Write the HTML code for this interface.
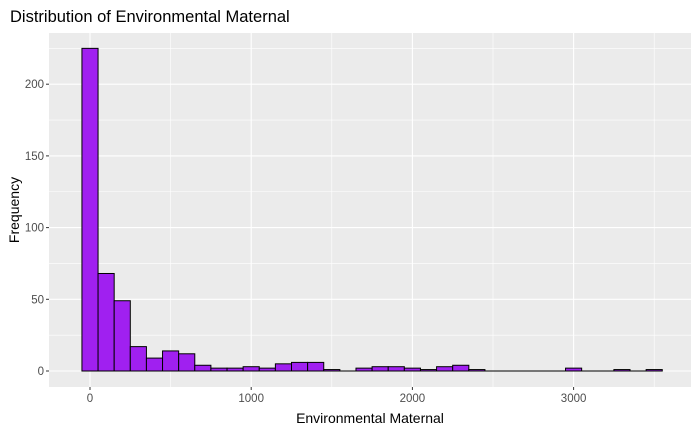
<!DOCTYPE html>
<html><head><meta charset="utf-8"><style>
body{margin:0;background:#fff;font-family:"Liberation Sans",Arial,sans-serif}
</style></head><body>
<svg id="c" width="700" height="432" xmlns="http://www.w3.org/2000/svg"></svg>
<script>
const binCenters=[0,100,200,300,400,500,600,700,800,900,1000,1100,1200,1300,1400,1500,1600,1700,1800,1900,2000,2100,2200,2300,2400,2500,2600,2700,2800,2900,3000,3100,3200,3300,3400,3500];
const counts=[225,68,49,17,9,14,12,4,2,2,3,2,5,6,6,1,0,2,3,3,2,1,3,4,1,0,0,0,0,0,2,0,0,1,0,1];
const yTicks=[0,50,100,150,200];
const xTicks=[0,1000,2000,3000];
const binWidth=100;
const svg=document.getElementById('c');
const NS='http://www.w3.org/2000/svg';
const PL=49,PR=691,PT=33,PB=387;
const xs=v=>90+v*0.1612;
const ys=v=>371-v*1.434;
function mk(t,a,p){const e=document.createElementNS(NS,t);for(const k in a)e.setAttribute(k,a[k]);(p||svg).appendChild(e);return e;}
const panel=mk('rect',{x:PL,y:PT,width:PR-PL,height:PB-PT,fill:'#ebebeb'});


for(let i=0;i<yTicks.length-1;i++){const v=(yTicks[i]+yTicks[i+1])/2;const l=mk('line',{x1:PL,x2:PR,y1:ys(v),y2:ys(v),stroke:'#fff','stroke-width':0.6});}
{const v=yTicks[yTicks.length-1]+25;const l=mk('line',{x1:PL,x2:PR,y1:ys(v),y2:ys(v),stroke:'#fff','stroke-width':0.6});}
for(let i=0;i<xTicks.length;i++){const v=xTicks[i]+500;if(xs(v)<PR){const l=mk('line',{x1:xs(v),x2:xs(v),y1:PT,y2:PB,stroke:'#fff','stroke-width':0.6});}}
yTicks.forEach(v=>{const l=mk('line',{x1:PL,x2:PR,y1:ys(v),y2:ys(v),stroke:'#fff','stroke-width':1.1});
const t=mk('line',{x1:PL-3,x2:PL,y1:ys(v),y2:ys(v),stroke:'#333'});
const tx=mk('text',{x:PL-5,y:ys(v)+4,'text-anchor':'end','font-size':11.5,fill:'#4d4d4d'});tx.textContent=v;});
xTicks.forEach(v=>{const l=mk('line',{x1:xs(v),x2:xs(v),y1:PT,y2:PB,stroke:'#fff','stroke-width':1.1});
const t=mk('line',{x1:xs(v),x2:xs(v),y1:PB,y2:PB+3,stroke:'#333'});
const tx=mk('text',{x:xs(v),y:PB+15,'text-anchor':'middle','font-size':11.5,fill:'#4d4d4d'});tx.textContent=v;});
const firstC=binCenters[0],lastC=binCenters[binCenters.length-1];
const base=mk('line',{x1:xs(firstC-binWidth/2),x2:xs(lastC+binWidth/2),y1:ys(0),y2:ys(0),stroke:'#000','stroke-width':1});


binCenters.forEach((c,i)=>{const x0=xs(c-binWidth/2),x1=xs(c+binWidth/2);const y=ys(counts[i]);
const r=mk('rect',{x:x0,y:y,width:x1-x0,height:ys(0)-y,fill:'#a020f0',stroke:'#000','stroke-width':1});

});
const ti=mk('text',{x:10,y:22,'font-size':16.5,fill:'#000'});ti.textContent='Distribution of Environmental Maternal';
const xt=mk('text',{x:(PL+PR)/2,y:423,'text-anchor':'middle','font-size':14,fill:'#000'});xt.textContent='Environmental Maternal';
const yt=mk('text',{x:0,y:0,'text-anchor':'middle','font-size':14,fill:'#000',transform:'translate(19,'+((PT+PB)/2)+') rotate(-90)'});yt.textContent='Frequency';
</script>
</body></html>
